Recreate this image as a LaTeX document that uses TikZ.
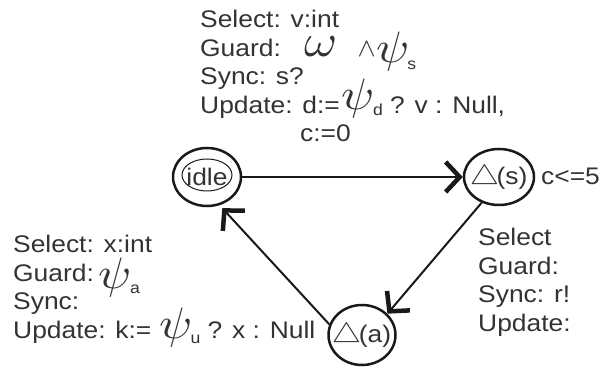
\documentclass[tikz,border=0pt]{standalone}
\usepackage{fontspec}
\usepackage{unicode-math}
\setmainfont{Liberation Sans}[FakeStretch=1.1]
\setmathfont{Latin Modern Math}[FakeStretch=1.1]
\usetikzlibrary{arrows.meta,shapes.geometric}
\newcommand\PSI[3]{\smash{\raisebox{#1}{\fontsize{44}{44}\selectfont$\psi$}\hspace{2pt}\raisebox{#3}{\fontsize{16}{16}\selectfont #2}}}
\newcommand\TRI{{\fontsize{27}{27}\selectfont$\bigtriangleup$}}
\begin{document}
\begin{tikzpicture}[x=1pt,y=-1pt,
  statenode/.style={ellipse, draw=black!90, line width=2.5pt, inner sep=0pt, text=black!80,
    font=\fontsize{24}{28.5}\selectfont},
  conn/.style={line width=2pt, draw=black!90,
    -{Straight Barb[length=14pt,width=30pt,line width=4.5pt]}},
  lbl/.style={inner sep=0pt, align=left, text=black!80, font=\fontsize{24}{28.5}\selectfont}]
\useasboundingbox (0,0) rectangle (602,371);
% states
\node[statenode, minimum width=68pt, minimum height=58pt] (idle) at (207,177) {\makebox[0pt]{idle}};
\draw[line width=1pt, black!90] (idle.center) ++(0,-2) ellipse [x radius=25pt, y radius=16pt];
\node[statenode, minimum width=70pt, minimum height=56pt] (s) at (499,177) {\makebox[0pt]{\TRI(s)}};
\node[statenode, minimum width=67pt, minimum height=60pt] (a) at (362,335) {\makebox[0pt]{\TRI(a)}};
% invariant
\node[lbl, anchor=base west] (inv) at (541,185) {c<=5};
% transition labels
\node[lbl, anchor=north west] (top) at (200,10) {Select: v:int\\
Guard:\hspace{24pt}\smash{\fontsize{46}{46}\selectfont$\omega$}\hspace{24pt}{\fontsize{26}{26}\selectfont$\wedge$}\hspace{1pt}\PSI{-6pt}{s}{-13pt}\\
Sync: s?\\
Update: d:=\hspace{2pt}\PSI{4pt}{d}{-2pt} ? v : Null,\\
\hspace*{100pt}c:=0};
\node[lbl, anchor=north west] (left) at (13,235) {Select: x:int\\
Guard:\hspace{5pt}\PSI{-7pt}{a}{-12pt}\\
Sync:\\
Update: k:=\hspace{8pt}\PSI{0pt}{u}{-5pt} ? x : Null};
\node[lbl, anchor=north west] (right) at (478,228) {Select\\
Guard:\\
Sync: r!\\
Update:};
% transitions
\draw[conn] (idle.east) -- (s.west);
\draw[conn] (s.236) -- (a.40);
\draw[conn, shorten >=4pt] (a.162) -- (idle.-66);
\end{tikzpicture}
\end{document}
